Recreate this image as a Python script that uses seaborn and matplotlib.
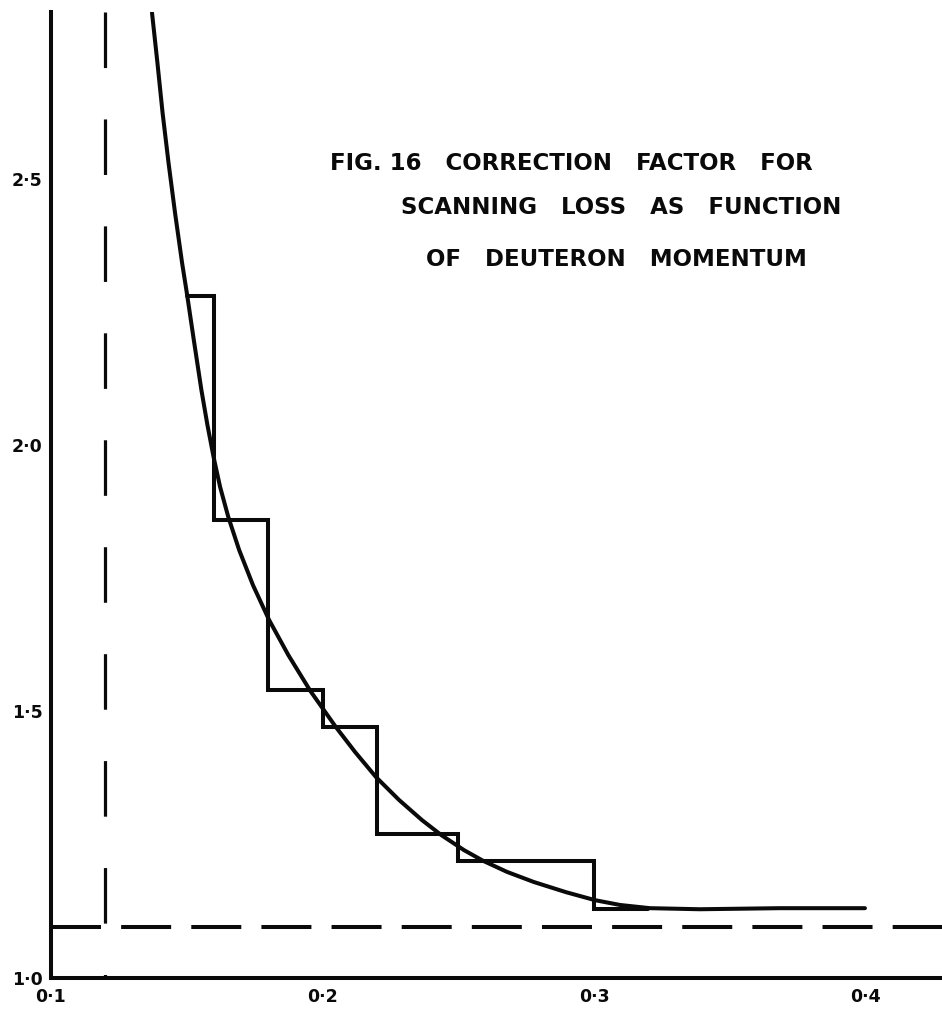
import matplotlib
matplotlib.use("Agg")
import matplotlib.pyplot as plt
import pandas as pd
import seaborn as sns

# Smooth correction-factor curve against deuteron momentum
momentum = [0.1372, 0.1392, 0.1411, 0.1433, 0.1457, 0.1483, 0.1501, 0.1526,
            0.1554, 0.1576, 0.1599, 0.1623, 0.1653, 0.1693, 0.1744, 0.1803,
            0.1874, 0.1956, 0.2049, 0.2120, 0.2197, 0.2282, 0.2367, 0.2438,
            0.2521, 0.2591, 0.2680, 0.2779, 0.2897, 0.3004, 0.3096, 0.3206,
            0.3390, 0.3685, 0.3998]
correction = [2.811, 2.717, 2.623, 2.529, 2.435, 2.341, 2.283, 2.197,
              2.103, 2.038, 1.977, 1.921, 1.865, 1.803, 1.737, 1.672,
              1.606, 1.538, 1.471, 1.424, 1.377, 1.334, 1.296, 1.268,
              1.240, 1.220, 1.199, 1.180, 1.161, 1.146, 1.137, 1.131,
              1.129, 1.131, 1.131]

# Measured correction factor in momentum bins
bin_edges = [0.15, 0.16, 0.18, 0.20, 0.22, 0.25, 0.30, 0.32]
bin_factor = [2.28, 1.86, 1.54, 1.47, 1.27, 1.22, 1.13]

# Reference lines
cutoff_momentum = 0.12
baseline_factor = 1.095

x_ticks = [0.1, 0.2, 0.3, 0.4]
x_tick_labels = ["0·1", "0·2", "0·3", "0·4"]
y_ticks = [1.0, 1.5, 2.0, 2.5]
y_tick_labels = ["1·0", "1·5", "2·0", "2·5"]

title_lines = ["FIG. 16   CORRECTION   FACTOR   FOR",
               "SCANNING   LOSS   AS   FUNCTION",
               "OF   DEUTERON   MOMENTUM"]

sns.set_theme(style="white")
plt.rcParams["font.family"] = ["DejaVu Sans"]
plt.rcParams["lines.scale_dashes"] = False

W, H = 942, 1014
fig = plt.figure(figsize=(W / 100, H / 100), dpi=100)
fig.patch.set_facecolor("white")
ax = fig.add_axes([51 / W, 36 / H, (W - 51) / W, (978 - 12) / H])
ax.set_facecolor("white")

ink = "#0a0a0a"
lw = 2.9

curve_df = pd.DataFrame({"p": momentum, "f": correction})
sns.lineplot(data=curve_df, x="p", y="f", ax=ax, color=ink, lw=lw,
             estimator=None, sort=False, solid_capstyle="round",
             solid_joinstyle="round")

step_df = pd.DataFrame({"p": bin_edges, "f": bin_factor + [bin_factor[-1]]})
sns.lineplot(data=step_df, x="p", y="f", ax=ax, color=ink, lw=lw,
             estimator=None, sort=False, drawstyle="steps-post",
             solid_joinstyle="miter")

ax.set_xlim(0.1, 0.1 + (W - 51) / 2715)
ax.set_ylim(1.0, 1.0 + (978 - 12) / 533)

y0, y1 = ax.get_ylim()
x0, x1 = ax.get_xlim()
ax.plot([cutoff_momentum, cutoff_momentum], [y1, y0], color=ink, lw=2.3,
        dashes=(40, 37), dash_capstyle="butt")
ax.plot([x0, x1], [baseline_factor, baseline_factor], color=ink, lw=2.9,
        dashes=(36, 14.5), dash_capstyle="butt")

ax.set_xticks(x_ticks)
ax.set_xticklabels(x_tick_labels)
ax.set_yticks(y_ticks)
ax.set_yticklabels(y_tick_labels)
ax.tick_params(axis="both", length=0, labelsize=12.5, colors=ink)
ax.tick_params(axis="x", pad=7)
ax.tick_params(axis="y", pad=6)
for lab in ax.get_xticklabels() + ax.get_yticklabels():
    lab.set_fontweight("bold")
ax.set_xlabel("")
ax.set_ylabel("")

sns.despine(ax=ax, top=True, right=True)
for side in ("left", "bottom"):
    ax.spines[side].set_linewidth(2.9)
    ax.spines[side].set_color(ink)

centers = [(571, 163), (621, 208), (616, 259)]
for text, (cx, cy) in zip(title_lines, centers):
    fig.text(cx / W, 1 - cy / H, text, ha="center", va="center",
             fontsize=16.5, fontweight="bold", color=ink)

fig.savefig("out.png", dpi=100, facecolor="white")
